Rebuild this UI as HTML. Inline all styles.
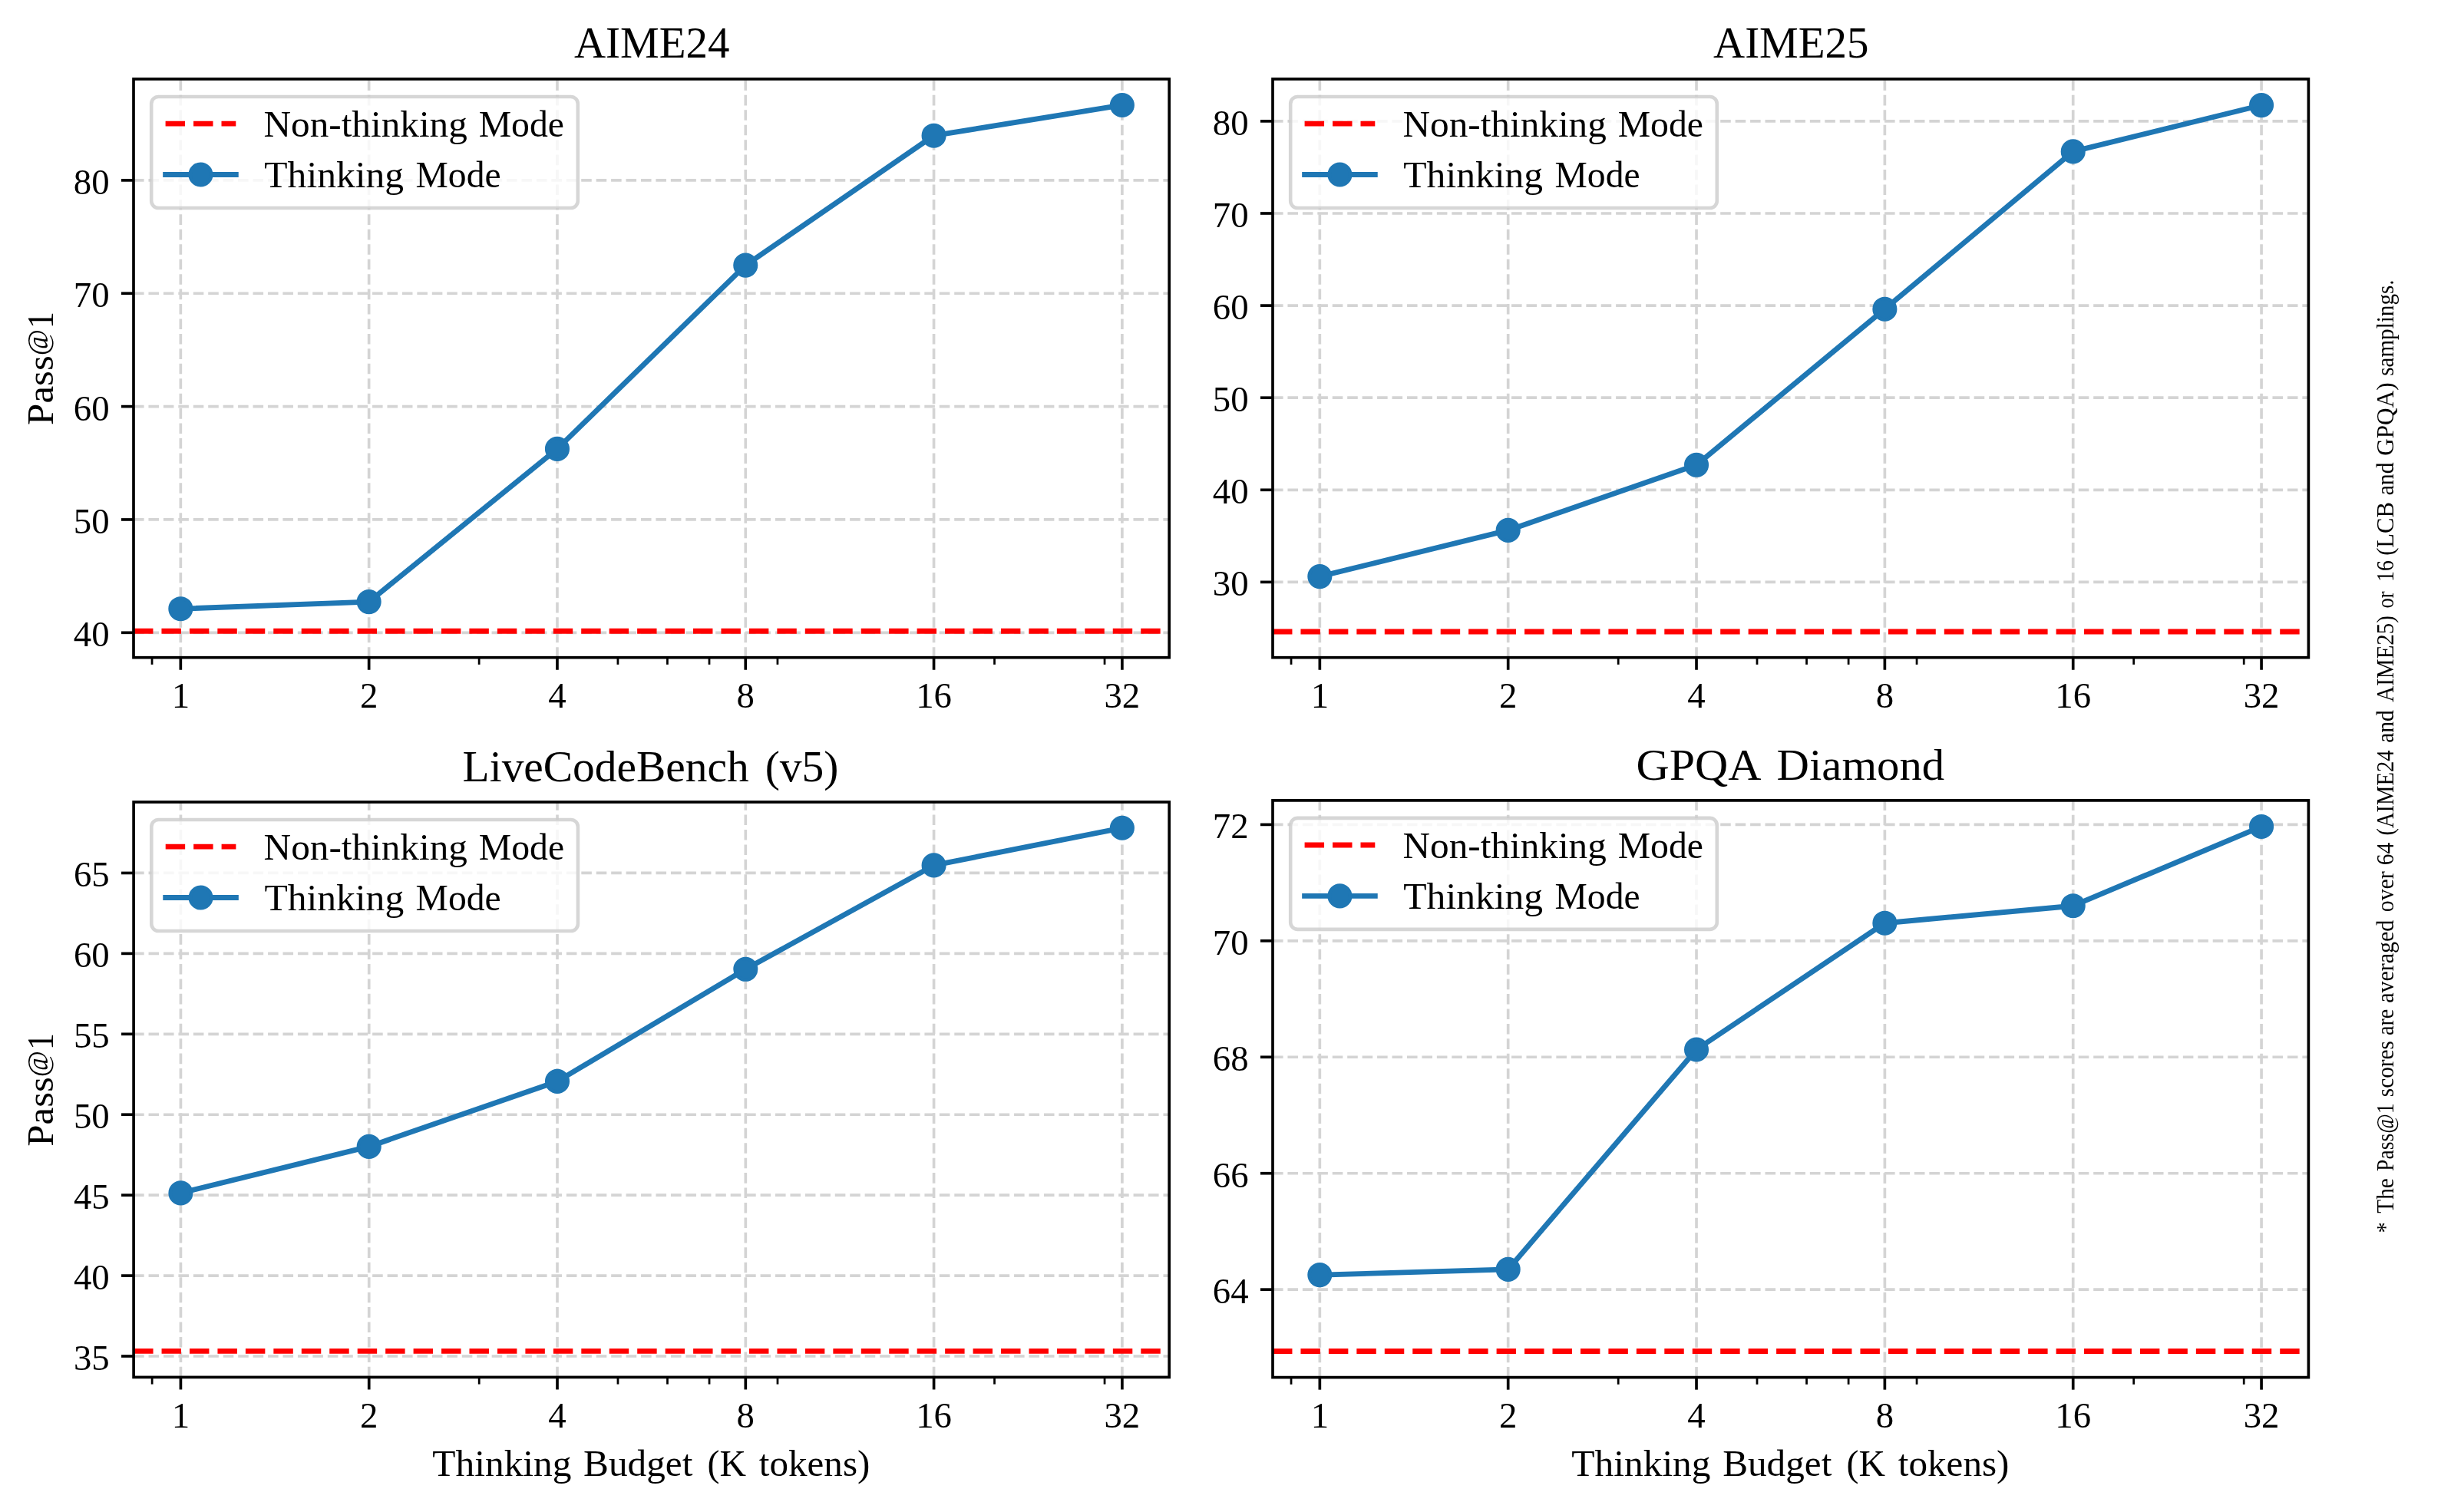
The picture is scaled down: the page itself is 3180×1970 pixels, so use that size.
<!DOCTYPE html>
<html><head><meta charset="utf-8"><title>Thinking budget</title><style>html,body{margin:0;padding:0;background:#fff;}svg{display:block;will-change:transform;}</style></head><body>
<svg width="3180" height="1970" viewBox="0 0 3180 1970" font-family="'Liberation Serif', 'DejaVu Serif', serif" fill="#000">
<rect width="3180" height="1970" fill="#fff"/>
<clipPath id="cTL"><rect x="174" y="103" width="1349.2" height="753.7"/></clipPath>
<g stroke="#d4d4d4" stroke-width="3.67" stroke-dasharray="13.57 5.87" fill="none" clip-path="url(#cTL)">
<path d="M235.33 856.7V103"/>
<path d="M480.64 856.7V103"/>
<path d="M725.95 856.7V103"/>
<path d="M971.25 856.7V103"/>
<path d="M1216.56 856.7V103"/>
<path d="M1461.87 856.7V103"/>
<path d="M174 824.3H1523.2"/>
<path d="M174 676.95H1523.2"/>
<path d="M174 529.6H1523.2"/>
<path d="M174 382.25H1523.2"/>
<path d="M174 234.9H1523.2"/>
</g>
<path d="M174 822.3H1523.2" stroke="#ff0000" stroke-width="6.88" stroke-dasharray="25.45 11" fill="none" clip-path="url(#cTL)"/>
<path d="M235.33 793.2 L480.64 784.1 L725.95 584.9 L971.25 345.6 L1216.56 176.7 L1461.87 137" stroke="#1f77b4" stroke-width="6.88" stroke-linejoin="round" stroke-linecap="square" fill="none" clip-path="url(#cTL)"/>
<circle cx="235.33" cy="793.2" r="13.75" fill="#1f77b4" stroke="#1f77b4" stroke-width="4.58"/>
<circle cx="480.64" cy="784.1" r="13.75" fill="#1f77b4" stroke="#1f77b4" stroke-width="4.58"/>
<circle cx="725.95" cy="584.9" r="13.75" fill="#1f77b4" stroke="#1f77b4" stroke-width="4.58"/>
<circle cx="971.25" cy="345.6" r="13.75" fill="#1f77b4" stroke="#1f77b4" stroke-width="4.58"/>
<circle cx="1216.56" cy="176.7" r="13.75" fill="#1f77b4" stroke="#1f77b4" stroke-width="4.58"/>
<circle cx="1461.87" cy="137" r="13.75" fill="#1f77b4" stroke="#1f77b4" stroke-width="4.58"/>
<rect x="174" y="103" width="1349.2" height="753.7" fill="none" stroke="#000" stroke-width="3.67" stroke-linejoin="miter"/>
<g stroke="#000" fill="none">
<path d="M235.33 856.7v16.05" stroke-width="3.67"/>
<path d="M480.64 856.7v16.05" stroke-width="3.67"/>
<path d="M725.95 856.7v16.05" stroke-width="3.67"/>
<path d="M971.25 856.7v16.05" stroke-width="3.67"/>
<path d="M1216.56 856.7v16.05" stroke-width="3.67"/>
<path d="M1461.87 856.7v16.05" stroke-width="3.67"/>
<path d="M198.04 856.7v9.17" stroke-width="2.75"/>
<path d="M624.13 856.7v9.17" stroke-width="2.75"/>
<path d="M804.92 856.7v9.17" stroke-width="2.75"/>
<path d="M869.44 856.7v9.17" stroke-width="2.75"/>
<path d="M924 856.7v9.17" stroke-width="2.75"/>
<path d="M1012.94 856.7v9.17" stroke-width="2.75"/>
<path d="M1295.54 856.7v9.17" stroke-width="2.75"/>
<path d="M1439.03 856.7v9.17" stroke-width="2.75"/>
<path d="M174 824.3h-16.05" stroke-width="3.67"/>
<path d="M174 676.95h-16.05" stroke-width="3.67"/>
<path d="M174 529.6h-16.05" stroke-width="3.67"/>
<path d="M174 382.25h-16.05" stroke-width="3.67"/>
<path d="M174 234.9h-16.05" stroke-width="3.67"/>
</g>
<g font-size="46.8">
<text x="235.33" y="922.3" text-anchor="middle">1</text>
<text x="480.64" y="922.3" text-anchor="middle">2</text>
<text x="725.95" y="922.3" text-anchor="middle">4</text>
<text x="971.25" y="922.3" text-anchor="middle">8</text>
<text x="1216.56" y="922.3" text-anchor="middle">16</text>
<text x="1461.87" y="922.3" text-anchor="middle">32</text>
<text x="142.58" y="842.2" text-anchor="end">40</text>
<text x="142.58" y="694.85" text-anchor="end">50</text>
<text x="142.58" y="547.5" text-anchor="end">60</text>
<text x="142.58" y="400.15" text-anchor="end">70</text>
<text x="142.58" y="252.8" text-anchor="end">80</text>
</g>
<text x="747.93" y="75.3" font-size="57.3" textLength="202.5" lengthAdjust="spacingAndGlyphs">AIME24</text>
<text transform="translate(68.8 553.88) rotate(-90)" font-size="47.6" textLength="90.61" lengthAdjust="spacingAndGlyphs">Pass</text>
<text transform="translate(68.8 428.09) rotate(-90)" font-size="47.6" textLength="21.94" lengthAdjust="spacingAndGlyphs">1</text>
<text transform="translate(61.73 463.37) rotate(-90)" font-size="37.2" textLength="34.24" lengthAdjust="spacingAndGlyphs">@</text>
<rect x="197.2" y="126" width="555.6" height="145" rx="9.17" ry="9.17" fill="#fff" fill-opacity="0.8" stroke="#cccccc" stroke-opacity="0.8" stroke-width="4.58"/>
<path d="M215.6 161.1H307.3" stroke="#ff0000" stroke-width="6.88" stroke-dasharray="25.45 11" fill="none"/>
<path d="M215.6 227.5H307.3" stroke="#1f77b4" stroke-width="6.88" stroke-linecap="square" fill="none"/>
<circle cx="261.45" cy="227.5" r="13.75" fill="#1f77b4" stroke="#1f77b4" stroke-width="4.58"/>
<text x="343.52" y="177.8" font-size="47.6" textLength="265.27" lengthAdjust="spacingAndGlyphs">Non-thinking</text><text x="623.72" y="177.8" font-size="47.6" textLength="111.25" lengthAdjust="spacingAndGlyphs">Mode</text>
<text x="344.34" y="243.6" font-size="47.6" textLength="181.74" lengthAdjust="spacingAndGlyphs">Thinking</text><text x="541.52" y="243.6" font-size="47.6" textLength="111.05" lengthAdjust="spacingAndGlyphs">Mode</text>
<clipPath id="cTR"><rect x="1658" y="103" width="1349.4" height="753.7"/></clipPath>
<g stroke="#d4d4d4" stroke-width="3.67" stroke-dasharray="13.57 5.87" fill="none" clip-path="url(#cTR)">
<path d="M1719.34 856.7V103"/>
<path d="M1964.68 856.7V103"/>
<path d="M2210.03 856.7V103"/>
<path d="M2455.37 856.7V103"/>
<path d="M2700.72 856.7V103"/>
<path d="M2946.06 856.7V103"/>
<path d="M1658 758.4H3007.4"/>
<path d="M1658 638.3H3007.4"/>
<path d="M1658 518.2H3007.4"/>
<path d="M1658 398.1H3007.4"/>
<path d="M1658 278H3007.4"/>
<path d="M1658 157.9H3007.4"/>
</g>
<path d="M1658 823H3007.4" stroke="#ff0000" stroke-width="6.88" stroke-dasharray="25.45 11" fill="none" clip-path="url(#cTR)"/>
<path d="M1719.34 751.1 L1964.68 690.9 L2210.03 605.8 L2455.37 402.7 L2700.72 197.4 L2946.06 137.1" stroke="#1f77b4" stroke-width="6.88" stroke-linejoin="round" stroke-linecap="square" fill="none" clip-path="url(#cTR)"/>
<circle cx="1719.34" cy="751.1" r="13.75" fill="#1f77b4" stroke="#1f77b4" stroke-width="4.58"/>
<circle cx="1964.68" cy="690.9" r="13.75" fill="#1f77b4" stroke="#1f77b4" stroke-width="4.58"/>
<circle cx="2210.03" cy="605.8" r="13.75" fill="#1f77b4" stroke="#1f77b4" stroke-width="4.58"/>
<circle cx="2455.37" cy="402.7" r="13.75" fill="#1f77b4" stroke="#1f77b4" stroke-width="4.58"/>
<circle cx="2700.72" cy="197.4" r="13.75" fill="#1f77b4" stroke="#1f77b4" stroke-width="4.58"/>
<circle cx="2946.06" cy="137.1" r="13.75" fill="#1f77b4" stroke="#1f77b4" stroke-width="4.58"/>
<rect x="1658" y="103" width="1349.4" height="753.7" fill="none" stroke="#000" stroke-width="3.67" stroke-linejoin="miter"/>
<g stroke="#000" fill="none">
<path d="M1719.34 856.7v16.05" stroke-width="3.67"/>
<path d="M1964.68 856.7v16.05" stroke-width="3.67"/>
<path d="M2210.03 856.7v16.05" stroke-width="3.67"/>
<path d="M2455.37 856.7v16.05" stroke-width="3.67"/>
<path d="M2700.72 856.7v16.05" stroke-width="3.67"/>
<path d="M2946.06 856.7v16.05" stroke-width="3.67"/>
<path d="M1682.04 856.7v9.17" stroke-width="2.75"/>
<path d="M2108.2 856.7v9.17" stroke-width="2.75"/>
<path d="M2289.01 856.7v9.17" stroke-width="2.75"/>
<path d="M2353.55 856.7v9.17" stroke-width="2.75"/>
<path d="M2408.11 856.7v9.17" stroke-width="2.75"/>
<path d="M2497.06 856.7v9.17" stroke-width="2.75"/>
<path d="M2779.7 856.7v9.17" stroke-width="2.75"/>
<path d="M2923.22 856.7v9.17" stroke-width="2.75"/>
<path d="M1658 758.4h-16.05" stroke-width="3.67"/>
<path d="M1658 638.3h-16.05" stroke-width="3.67"/>
<path d="M1658 518.2h-16.05" stroke-width="3.67"/>
<path d="M1658 398.1h-16.05" stroke-width="3.67"/>
<path d="M1658 278h-16.05" stroke-width="3.67"/>
<path d="M1658 157.9h-16.05" stroke-width="3.67"/>
</g>
<g font-size="46.8">
<text x="1719.34" y="922.3" text-anchor="middle">1</text>
<text x="1964.68" y="922.3" text-anchor="middle">2</text>
<text x="2210.03" y="922.3" text-anchor="middle">4</text>
<text x="2455.37" y="922.3" text-anchor="middle">8</text>
<text x="2700.72" y="922.3" text-anchor="middle">16</text>
<text x="2946.06" y="922.3" text-anchor="middle">32</text>
<text x="1626.58" y="776.3" text-anchor="end">30</text>
<text x="1626.58" y="656.2" text-anchor="end">40</text>
<text x="1626.58" y="536.1" text-anchor="end">50</text>
<text x="1626.58" y="416" text-anchor="end">60</text>
<text x="1626.58" y="295.9" text-anchor="end">70</text>
<text x="1626.58" y="175.8" text-anchor="end">80</text>
</g>
<text x="2232.03" y="75.3" font-size="57.3" textLength="202.52" lengthAdjust="spacingAndGlyphs">AIME25</text>
<rect x="1681.2" y="126" width="555.6" height="145" rx="9.17" ry="9.17" fill="#fff" fill-opacity="0.8" stroke="#cccccc" stroke-opacity="0.8" stroke-width="4.58"/>
<path d="M1699.6 161.1H1791.3" stroke="#ff0000" stroke-width="6.88" stroke-dasharray="25.45 11" fill="none"/>
<path d="M1699.6 227.5H1791.3" stroke="#1f77b4" stroke-width="6.88" stroke-linecap="square" fill="none"/>
<circle cx="1745.45" cy="227.5" r="13.75" fill="#1f77b4" stroke="#1f77b4" stroke-width="4.58"/>
<text x="1827.52" y="177.8" font-size="47.6" textLength="265.27" lengthAdjust="spacingAndGlyphs">Non-thinking</text><text x="2107.72" y="177.8" font-size="47.6" textLength="111.25" lengthAdjust="spacingAndGlyphs">Mode</text>
<text x="1828.34" y="243.6" font-size="47.6" textLength="181.74" lengthAdjust="spacingAndGlyphs">Thinking</text><text x="2025.52" y="243.6" font-size="47.6" textLength="111.05" lengthAdjust="spacingAndGlyphs">Mode</text>
<clipPath id="cBL"><rect x="174.1" y="1045" width="1349.1" height="749.4"/></clipPath>
<g stroke="#d4d4d4" stroke-width="3.67" stroke-dasharray="13.57 5.87" fill="none" clip-path="url(#cBL)">
<path d="M235.42 1794.4V1045"/>
<path d="M480.71 1794.4V1045"/>
<path d="M726 1794.4V1045"/>
<path d="M971.3 1794.4V1045"/>
<path d="M1216.59 1794.4V1045"/>
<path d="M1461.88 1794.4V1045"/>
<path d="M174.1 1767H1523.2"/>
<path d="M174.1 1662.08H1523.2"/>
<path d="M174.1 1557.15H1523.2"/>
<path d="M174.1 1452.22H1523.2"/>
<path d="M174.1 1347.3H1523.2"/>
<path d="M174.1 1242.38H1523.2"/>
<path d="M174.1 1137.45H1523.2"/>
</g>
<path d="M174.1 1760.4H1523.2" stroke="#ff0000" stroke-width="6.88" stroke-dasharray="25.45 11" fill="none" clip-path="url(#cBL)"/>
<path d="M235.42 1554.4 L480.71 1493.9 L726 1408.9 L971.3 1262.8 L1216.59 1127.4 L1461.88 1078.75" stroke="#1f77b4" stroke-width="6.88" stroke-linejoin="round" stroke-linecap="square" fill="none" clip-path="url(#cBL)"/>
<circle cx="235.42" cy="1554.4" r="13.75" fill="#1f77b4" stroke="#1f77b4" stroke-width="4.58"/>
<circle cx="480.71" cy="1493.9" r="13.75" fill="#1f77b4" stroke="#1f77b4" stroke-width="4.58"/>
<circle cx="726" cy="1408.9" r="13.75" fill="#1f77b4" stroke="#1f77b4" stroke-width="4.58"/>
<circle cx="971.3" cy="1262.8" r="13.75" fill="#1f77b4" stroke="#1f77b4" stroke-width="4.58"/>
<circle cx="1216.59" cy="1127.4" r="13.75" fill="#1f77b4" stroke="#1f77b4" stroke-width="4.58"/>
<circle cx="1461.88" cy="1078.75" r="13.75" fill="#1f77b4" stroke="#1f77b4" stroke-width="4.58"/>
<rect x="174.1" y="1045" width="1349.1" height="749.4" fill="none" stroke="#000" stroke-width="3.67" stroke-linejoin="miter"/>
<g stroke="#000" fill="none">
<path d="M235.42 1794.4v16.05" stroke-width="3.67"/>
<path d="M480.71 1794.4v16.05" stroke-width="3.67"/>
<path d="M726 1794.4v16.05" stroke-width="3.67"/>
<path d="M971.3 1794.4v16.05" stroke-width="3.67"/>
<path d="M1216.59 1794.4v16.05" stroke-width="3.67"/>
<path d="M1461.88 1794.4v16.05" stroke-width="3.67"/>
<path d="M198.14 1794.4v9.17" stroke-width="2.75"/>
<path d="M624.2 1794.4v9.17" stroke-width="2.75"/>
<path d="M804.97 1794.4v9.17" stroke-width="2.75"/>
<path d="M869.49 1794.4v9.17" stroke-width="2.75"/>
<path d="M924.04 1794.4v9.17" stroke-width="2.75"/>
<path d="M1012.98 1794.4v9.17" stroke-width="2.75"/>
<path d="M1295.55 1794.4v9.17" stroke-width="2.75"/>
<path d="M1439.04 1794.4v9.17" stroke-width="2.75"/>
<path d="M174.1 1767h-16.05" stroke-width="3.67"/>
<path d="M174.1 1662.08h-16.05" stroke-width="3.67"/>
<path d="M174.1 1557.15h-16.05" stroke-width="3.67"/>
<path d="M174.1 1452.22h-16.05" stroke-width="3.67"/>
<path d="M174.1 1347.3h-16.05" stroke-width="3.67"/>
<path d="M174.1 1242.38h-16.05" stroke-width="3.67"/>
<path d="M174.1 1137.45h-16.05" stroke-width="3.67"/>
</g>
<g font-size="46.8">
<text x="235.42" y="1860" text-anchor="middle">1</text>
<text x="480.71" y="1860" text-anchor="middle">2</text>
<text x="726" y="1860" text-anchor="middle">4</text>
<text x="971.3" y="1860" text-anchor="middle">8</text>
<text x="1216.59" y="1860" text-anchor="middle">16</text>
<text x="1461.88" y="1860" text-anchor="middle">32</text>
<text x="142.68" y="1784.9" text-anchor="end">35</text>
<text x="142.68" y="1679.98" text-anchor="end">40</text>
<text x="142.68" y="1575.05" text-anchor="end">45</text>
<text x="142.68" y="1470.12" text-anchor="end">50</text>
<text x="142.68" y="1365.2" text-anchor="end">55</text>
<text x="142.68" y="1260.28" text-anchor="end">60</text>
<text x="142.68" y="1155.35" text-anchor="end">65</text>
</g>
<text x="602.64" y="1018" font-size="57.3" textLength="373.01" lengthAdjust="spacingAndGlyphs">LiveCodeBench</text><text x="996.68" y="1018" font-size="57.3" textLength="95.84" lengthAdjust="spacingAndGlyphs">(v5)</text>
<text x="563.34" y="1923.4" font-size="47.6" textLength="181.14" lengthAdjust="spacingAndGlyphs">Thinking</text><text x="760.12" y="1923.4" font-size="47.6" textLength="142.25" lengthAdjust="spacingAndGlyphs">Budget</text><text x="921.51" y="1923.4" font-size="47.6" textLength="50.48" lengthAdjust="spacingAndGlyphs">(K</text><text x="988.82" y="1923.4" font-size="47.6" textLength="144.56" lengthAdjust="spacingAndGlyphs">tokens)</text>
<text transform="translate(68.8 1493.73) rotate(-90)" font-size="47.6" textLength="90.61" lengthAdjust="spacingAndGlyphs">Pass</text>
<text transform="translate(68.8 1367.94) rotate(-90)" font-size="47.6" textLength="21.94" lengthAdjust="spacingAndGlyphs">1</text>
<text transform="translate(61.73 1403.22) rotate(-90)" font-size="37.2" textLength="34.24" lengthAdjust="spacingAndGlyphs">@</text>
<rect x="197.3" y="1068" width="555.6" height="145" rx="9.17" ry="9.17" fill="#fff" fill-opacity="0.8" stroke="#cccccc" stroke-opacity="0.8" stroke-width="4.58"/>
<path d="M215.7 1103.1H307.4" stroke="#ff0000" stroke-width="6.88" stroke-dasharray="25.45 11" fill="none"/>
<path d="M215.7 1169.5H307.4" stroke="#1f77b4" stroke-width="6.88" stroke-linecap="square" fill="none"/>
<circle cx="261.55" cy="1169.5" r="13.75" fill="#1f77b4" stroke="#1f77b4" stroke-width="4.58"/>
<text x="343.62" y="1119.8" font-size="47.6" textLength="265.27" lengthAdjust="spacingAndGlyphs">Non-thinking</text><text x="623.82" y="1119.8" font-size="47.6" textLength="111.25" lengthAdjust="spacingAndGlyphs">Mode</text>
<text x="344.44" y="1185.6" font-size="47.6" textLength="181.74" lengthAdjust="spacingAndGlyphs">Thinking</text><text x="541.62" y="1185.6" font-size="47.6" textLength="111.05" lengthAdjust="spacingAndGlyphs">Mode</text>
<clipPath id="cBR"><rect x="1658" y="1042.9" width="1349.4" height="751.7"/></clipPath>
<g stroke="#d4d4d4" stroke-width="3.67" stroke-dasharray="13.57 5.87" fill="none" clip-path="url(#cBR)">
<path d="M1719.34 1794.6V1042.9"/>
<path d="M1964.68 1794.6V1042.9"/>
<path d="M2210.03 1794.6V1042.9"/>
<path d="M2455.37 1794.6V1042.9"/>
<path d="M2700.72 1794.6V1042.9"/>
<path d="M2946.06 1794.6V1042.9"/>
<path d="M1658 1680.16H3007.4"/>
<path d="M1658 1528.72H3007.4"/>
<path d="M1658 1377.28H3007.4"/>
<path d="M1658 1225.84H3007.4"/>
<path d="M1658 1074.4H3007.4"/>
</g>
<path d="M1658 1760.5H3007.4" stroke="#ff0000" stroke-width="6.88" stroke-dasharray="25.45 11" fill="none" clip-path="url(#cBR)"/>
<path d="M1719.34 1661.1 L1964.68 1653.9 L2210.03 1367.5 L2455.37 1202.7 L2700.72 1180.2 L2946.06 1076.95" stroke="#1f77b4" stroke-width="6.88" stroke-linejoin="round" stroke-linecap="square" fill="none" clip-path="url(#cBR)"/>
<circle cx="1719.34" cy="1661.1" r="13.75" fill="#1f77b4" stroke="#1f77b4" stroke-width="4.58"/>
<circle cx="1964.68" cy="1653.9" r="13.75" fill="#1f77b4" stroke="#1f77b4" stroke-width="4.58"/>
<circle cx="2210.03" cy="1367.5" r="13.75" fill="#1f77b4" stroke="#1f77b4" stroke-width="4.58"/>
<circle cx="2455.37" cy="1202.7" r="13.75" fill="#1f77b4" stroke="#1f77b4" stroke-width="4.58"/>
<circle cx="2700.72" cy="1180.2" r="13.75" fill="#1f77b4" stroke="#1f77b4" stroke-width="4.58"/>
<circle cx="2946.06" cy="1076.95" r="13.75" fill="#1f77b4" stroke="#1f77b4" stroke-width="4.58"/>
<rect x="1658" y="1042.9" width="1349.4" height="751.7" fill="none" stroke="#000" stroke-width="3.67" stroke-linejoin="miter"/>
<g stroke="#000" fill="none">
<path d="M1719.34 1794.6v16.05" stroke-width="3.67"/>
<path d="M1964.68 1794.6v16.05" stroke-width="3.67"/>
<path d="M2210.03 1794.6v16.05" stroke-width="3.67"/>
<path d="M2455.37 1794.6v16.05" stroke-width="3.67"/>
<path d="M2700.72 1794.6v16.05" stroke-width="3.67"/>
<path d="M2946.06 1794.6v16.05" stroke-width="3.67"/>
<path d="M1682.04 1794.6v9.17" stroke-width="2.75"/>
<path d="M2108.2 1794.6v9.17" stroke-width="2.75"/>
<path d="M2289.01 1794.6v9.17" stroke-width="2.75"/>
<path d="M2353.55 1794.6v9.17" stroke-width="2.75"/>
<path d="M2408.11 1794.6v9.17" stroke-width="2.75"/>
<path d="M2497.06 1794.6v9.17" stroke-width="2.75"/>
<path d="M2779.7 1794.6v9.17" stroke-width="2.75"/>
<path d="M2923.22 1794.6v9.17" stroke-width="2.75"/>
<path d="M1658 1680.16h-16.05" stroke-width="3.67"/>
<path d="M1658 1528.72h-16.05" stroke-width="3.67"/>
<path d="M1658 1377.28h-16.05" stroke-width="3.67"/>
<path d="M1658 1225.84h-16.05" stroke-width="3.67"/>
<path d="M1658 1074.4h-16.05" stroke-width="3.67"/>
</g>
<g font-size="46.8">
<text x="1719.34" y="1860.2" text-anchor="middle">1</text>
<text x="1964.68" y="1860.2" text-anchor="middle">2</text>
<text x="2210.03" y="1860.2" text-anchor="middle">4</text>
<text x="2455.37" y="1860.2" text-anchor="middle">8</text>
<text x="2700.72" y="1860.2" text-anchor="middle">16</text>
<text x="2946.06" y="1860.2" text-anchor="middle">32</text>
<text x="1626.58" y="1698.06" text-anchor="end">64</text>
<text x="1626.58" y="1546.62" text-anchor="end">66</text>
<text x="1626.58" y="1395.18" text-anchor="end">68</text>
<text x="1626.58" y="1243.74" text-anchor="end">70</text>
<text x="1626.58" y="1092.3" text-anchor="end">72</text>
</g>
<text x="2131.55" y="1015.6" font-size="57.3" textLength="162.93" lengthAdjust="spacingAndGlyphs">GPQA</text><text x="2314.64" y="1015.6" font-size="57.3" textLength="218.53" lengthAdjust="spacingAndGlyphs">Diamond</text>
<text x="2047.39" y="1923.4" font-size="47.6" textLength="181.14" lengthAdjust="spacingAndGlyphs">Thinking</text><text x="2244.17" y="1923.4" font-size="47.6" textLength="142.25" lengthAdjust="spacingAndGlyphs">Budget</text><text x="2405.56" y="1923.4" font-size="47.6" textLength="50.48" lengthAdjust="spacingAndGlyphs">(K</text><text x="2472.87" y="1923.4" font-size="47.6" textLength="144.56" lengthAdjust="spacingAndGlyphs">tokens)</text>
<rect x="1681.2" y="1065.9" width="555.6" height="145" rx="9.17" ry="9.17" fill="#fff" fill-opacity="0.8" stroke="#cccccc" stroke-opacity="0.8" stroke-width="4.58"/>
<path d="M1699.6 1101H1791.3" stroke="#ff0000" stroke-width="6.88" stroke-dasharray="25.45 11" fill="none"/>
<path d="M1699.6 1167.4H1791.3" stroke="#1f77b4" stroke-width="6.88" stroke-linecap="square" fill="none"/>
<circle cx="1745.45" cy="1167.4" r="13.75" fill="#1f77b4" stroke="#1f77b4" stroke-width="4.58"/>
<text x="1827.52" y="1117.7" font-size="47.6" textLength="265.27" lengthAdjust="spacingAndGlyphs">Non-thinking</text><text x="2107.72" y="1117.7" font-size="47.6" textLength="111.25" lengthAdjust="spacingAndGlyphs">Mode</text>
<text x="1828.34" y="1183.5" font-size="47.6" textLength="181.74" lengthAdjust="spacingAndGlyphs">Thinking</text><text x="2025.52" y="1183.5" font-size="47.6" textLength="111.05" lengthAdjust="spacingAndGlyphs">Mode</text>
<text transform="translate(3118 1606.59) rotate(-90)" font-size="30.5" textLength="14.16" lengthAdjust="spacingAndGlyphs">*</text><text transform="translate(3118 1580.65) rotate(-90)" font-size="30.5" textLength="45.41" lengthAdjust="spacingAndGlyphs">The</text><text transform="translate(3118 1525.98) rotate(-90)" font-size="30.5" textLength="88.72" lengthAdjust="spacingAndGlyphs">Pass@1</text><text transform="translate(3118 1429.15) rotate(-90)" font-size="30.5" textLength="72.95" lengthAdjust="spacingAndGlyphs">scores</text><text transform="translate(3118 1348.97) rotate(-90)" font-size="30.5" textLength="34.03" lengthAdjust="spacingAndGlyphs">are</text><text transform="translate(3118 1306.77) rotate(-90)" font-size="30.5" textLength="108.05" lengthAdjust="spacingAndGlyphs">averaged</text><text transform="translate(3118 1188.26) rotate(-90)" font-size="30.5" textLength="53.03" lengthAdjust="spacingAndGlyphs">over</text><text transform="translate(3118 1127.21) rotate(-90)" font-size="30.5" textLength="29.3" lengthAdjust="spacingAndGlyphs">64</text><text transform="translate(3118 1088.54) rotate(-90)" font-size="30.5" textLength="111.04" lengthAdjust="spacingAndGlyphs">(AIME24</text><text transform="translate(3118 967.87) rotate(-90)" font-size="30.5" textLength="42.63" lengthAdjust="spacingAndGlyphs">and</text><text transform="translate(3118 914.7) rotate(-90)" font-size="30.5" textLength="112.65" lengthAdjust="spacingAndGlyphs">AIME25)</text><text transform="translate(3118 792.46) rotate(-90)" font-size="30.5" textLength="22.03" lengthAdjust="spacingAndGlyphs">or</text><text transform="translate(3118 757.88) rotate(-90)" font-size="30.5" textLength="27.7" lengthAdjust="spacingAndGlyphs">16</text><text transform="translate(3118 723.84) rotate(-90)" font-size="30.5" textLength="69.83" lengthAdjust="spacingAndGlyphs">(LCB</text><text transform="translate(3118 645.27) rotate(-90)" font-size="30.5" textLength="42.73" lengthAdjust="spacingAndGlyphs">and</text><text transform="translate(3118 593.85) rotate(-90)" font-size="30.5" textLength="95.48" lengthAdjust="spacingAndGlyphs">GPQA)</text><text transform="translate(3118 489.85) rotate(-90)" font-size="30.5" textLength="125.45" lengthAdjust="spacingAndGlyphs">samplings.</text>
</svg>
</body></html>
